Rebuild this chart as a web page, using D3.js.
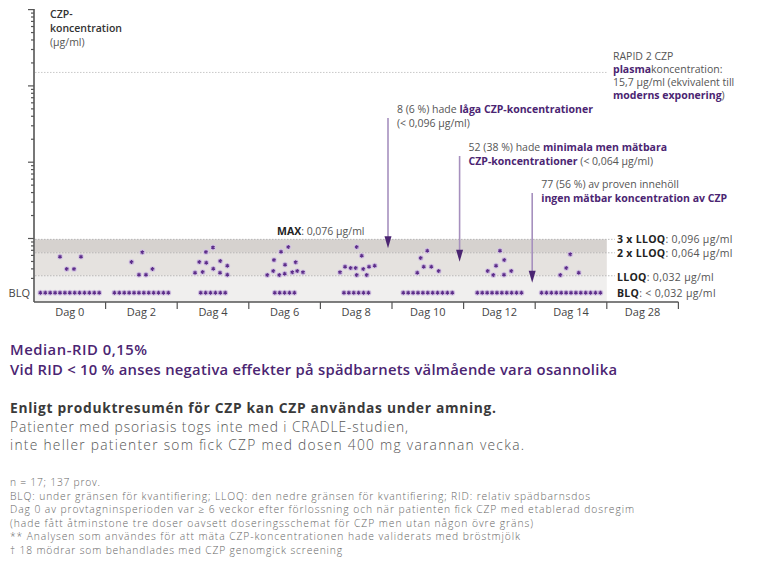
<!DOCTYPE html>
<html>
<head>
<meta charset="utf-8">
<script src="https://cdn.jsdelivr.net/npm/d3@7"></script>
<style>
  body { margin: 0; background: #fff; }
  svg { font-family: "Open Sans", Lato, sans-serif; }
  .ax path, .ax line { stroke: #555; }
</style>
</head>
<body>
<svg id="chart" width="774" height="576"></svg>
<script>
// categories
const days = ["Dag 0", "Dag 2", "Dag 4", "Dag 6", "Dag 8", "Dag 10", "Dag 12", "Dag 14", "Dag 28"];
// number of samples below the limit of quantification, per day
const blqCounts = [13, 12, 6, 5, 6, 11, 10, 13, 0];

// measured samples (µg/ml), with the day and spread within the day column
const pointDay = [
  "Dag 0","Dag 0","Dag 0","Dag 0",
  "Dag 2","Dag 2","Dag 2","Dag 2","Dag 2",
  "Dag 4","Dag 4","Dag 4","Dag 4","Dag 4","Dag 4","Dag 4","Dag 4","Dag 4","Dag 4","Dag 4",
  "Dag 6","Dag 6","Dag 6","Dag 6","Dag 6","Dag 6","Dag 6","Dag 6","Dag 6","Dag 6","Dag 6","Dag 6",
  "Dag 8","Dag 8","Dag 8","Dag 8","Dag 8","Dag 8","Dag 8","Dag 8","Dag 8","Dag 8","Dag 8",
  "Dag 10","Dag 10","Dag 10","Dag 10","Dag 10","Dag 10",
  "Dag 12","Dag 12","Dag 12","Dag 12","Dag 12","Dag 12","Dag 12",
  "Dag 14","Dag 14","Dag 14","Dag 14"
];
const pointValue = [
  0.0569, 0.0392, 0.0392, 0.0569,
  0.0485, 0.0330, 0.0330, 0.0652, 0.0392,
  0.0351, 0.0485, 0.0358, 0.0655, 0.0474, 0.0751, 0.0395, 0.0499, 0.0351, 0.0432, 0.0330,
  0.0327, 0.0369, 0.0515, 0.0327, 0.0661, 0.0340, 0.0447, 0.0760, 0.0355, 0.0480, 0.0369, 0.0355,
  0.0355, 0.0421, 0.0404, 0.0404, 0.0327, 0.0760, 0.0586, 0.0392, 0.0327, 0.0421, 0.0434,
  0.0351, 0.0547, 0.0421, 0.0682, 0.0421, 0.0369,
  0.0369, 0.0327, 0.0434, 0.0682, 0.0330, 0.0515, 0.0369,
  0.0327, 0.0404, 0.0612, 0.0351
];
const pointJitter = [
  0.363, 0.457, 0.559, 0.656,
  0.362, 0.466, 0.564, 0.513, 0.655,
  0.249, 0.309, 0.356, 0.402, 0.406, 0.500, 0.504, 0.602, 0.598, 0.700, 0.700,
  0.258, 0.342, 0.352, 0.426, 0.450, 0.501, 0.506, 0.552, 0.608, 0.655, 0.677, 0.757,
  0.274, 0.344, 0.423, 0.493, 0.507, 0.507, 0.577, 0.599, 0.647, 0.679, 0.758,
  0.353, 0.401, 0.443, 0.493, 0.549, 0.652,
  0.337, 0.415, 0.453, 0.508, 0.564, 0.568, 0.666,
  0.351, 0.434, 0.490, 0.608
];

// limits
const limitValues = [0.096, 0.064, 0.032];
const limitBold = ["3 x LLOQ", "2 x LLOQ", "LLOQ", "BLQ"];
const limitText = [": 0,096 µg/ml", ": 0,064 µg/ml", ": 0,032 µg/ml", ": < 0,032 µg/ml"];
const rapidLevel = 15.7;
const yTicks = [0.03,0.04,0.05,0.06,0.07,0.08,0.09,0.1,0.2,0.3,0.4,0.5,0.6,0.7,0.8,0.9,1,2,3,4,5,6,7,8,9,10,20,30,40,50,60,70,80,90,100];

const purple = "#4b2572", grey = "#555";

const svg = d3.select("#chart");
const x = d3.scaleBand().domain(days).range([34, 678.4]);
const y = d3.scaleLog().domain([0.1, 100]).range([238, 9.1]);
const bottom = 302;
const bandEnd = x("Dag 28");

// background bands
const bandFill = ["#d6d2cf", "#e5e2df", "#f0efee"];
const bandLow = [0.064, 0.032, null];
svg.selectAll("rect.band").data(limitValues).enter().append("rect")
  .attr("x", 35).attr("width", bandEnd - 35)
  .attr("y", d => y(d))
  .attr("height", (d, i) => (bandLow[i] ? y(bandLow[i]) : bottom) - y(d))
  .attr("fill", (d, i) => bandFill[i]);

svg.selectAll("line.lim").data(limitValues).enter().append("line")
  .attr("x1", 35).attr("x2", bandEnd + 8)
  .attr("y1", d => y(d)).attr("y2", d => y(d))
  .attr("stroke", "#aaa").attr("stroke-dasharray", "1.5,1.5").attr("stroke-width", 0.8);

// rapid 2 reference line
svg.append("line").attr("x1", 35).attr("x2", bandEnd + 1)
  .attr("y1", y(rapidLevel) + 2).attr("y2", y(rapidLevel) + 2)
  .attr("stroke", "#bbb").attr("stroke-dasharray", "1.5,1.5").attr("stroke-width", 0.8);

// y axis
const yAxis = svg.append("g").attr("class", "ax").attr("transform", "translate(34,0)")
  .call(d3.axisLeft(y).tickValues(yTicks).tickFormat("").tickSizeOuter(0));
yAxis.select(".domain").remove();
yAxis.selectAll(".tick line")
  .attr("x2", d => Math.abs(Math.log10(d) - Math.round(Math.log10(d))) < 1e-6 ? -6 : -3)
  .attr("stroke-width", 1.2);
svg.append("line").attr("x1", 34).attr("x2", 34).attr("y1", y(100)).attr("y2", bottom)
  .attr("stroke", "#555").attr("stroke-width", 1.6);

// x axis
const xAxis = svg.append("g").attr("class", "ax").attr("transform", `translate(0,${bottom})`);
xAxis.append("line").attr("x1", 34).attr("x2", x.range()[1]).attr("stroke-width", 1.6);
xAxis.selectAll("line.tk").data(days).enter().append("line")
  .attr("x1", d => x(d) + x.bandwidth()).attr("x2", d => x(d) + x.bandwidth())
  .attr("y1", 0).attr("y2", 7).attr("stroke-width", 1.2);
xAxis.selectAll("text").data(days).enter().append("text")
  .attr("x", d => x(d) + x.bandwidth() / 2).attr("y", 14)
  .attr("text-anchor", "middle").attr("font-size", 11).attr("fill", "#444").text(d => d);

// star marker
const star = d3.symbol(d3.symbolAsterisk, 11);
function drawStar(g, cx, cy) {
  g.append("circle").attr("cx", cx).attr("cy", cy).attr("r", 2.9).attr("fill", "#d5c7e3");
  g.append("path").attr("d", star()).attr("transform", `translate(${cx},${cy})`)
    .attr("stroke", "#5d2d8a").attr("stroke-width", 1.1).attr("fill", "none");
}
const marks = svg.append("g");
const blqY = y(0.032) + 17;
blqCounts.forEach((n, i) => {
  const cx = x(days[i]) + x.bandwidth() / 2;
  for (let k = 0; k < n; k++) drawStar(marks, cx + (k - (n - 1) / 2) * 4.9, blqY);
});
pointValue.forEach((v, i) => {
  drawStar(marks, x(pointDay[i]) + pointJitter[i] * x.bandwidth(), y(v));
});

// labels right of plot
const rl = svg.append("g").attr("font-size", 10.5).attr("letter-spacing", 0.3);
const rlY = [y(0.096) + 4, y(0.064) + 4, y(0.032) + 5, blqY + 4];
limitBold.forEach((b, i) => {
  const t = rl.append("text").attr("x", 617).attr("y", rlY[i]);
  t.append("tspan").attr("font-weight", 700).attr("fill", "#222").text(b);
  t.append("tspan").attr("fill", grey).text(limitText[i]);
});
svg.append("text").attr("x", 30).attr("y", blqY + 4).attr("text-anchor", "end")
  .attr("font-size", 11).attr("fill", "#444").text("BLQ");

// y axis title
const yt = svg.append("text").attr("x", 50).attr("y", 18).attr("font-size", 10.5);
yt.append("tspan").attr("x", 50).attr("fill", "#333").attr("font-weight", 600).text("CZP-");
yt.append("tspan").attr("x", 50).attr("dy", 14).attr("fill", "#333").attr("font-weight", 600)
  .attr("textLength", 72).attr("lengthAdjust", "spacing").text("koncentration");
yt.append("tspan").attr("x", 50).attr("dy", 14).attr("fill", grey).text("(µg/ml)");

// multi-part text helper: parts = [[text, bold], ...]
function rich(g, xx, yy, parts, size) {
  const t = g.append("text").attr("x", xx).attr("y", yy).attr("font-size", size);
  parts.forEach(p => t.append("tspan").attr("fill", p[1] ? purple : grey)
    .attr("font-weight", p[1] ? 700 : 400).text(p[0]));
  return t;
}
const ann = svg.append("g");
rich(ann, 613, 60, [["RAPID 2 CZP", 0]], 10.5);
rich(ann, 613, 73, [["plasma", 1], ["koncentration:", 0]], 10.5);
rich(ann, 613, 86, [["15,7 µg/ml (ekvivalent till", 0]], 10.5);
rich(ann, 613, 99, [["moderns exponering", 1], [")", 0]], 10.5);

// MAX label
const mx = svg.append("text").attr("x", 277).attr("y", 235).attr("font-size", 10.5);
mx.append("tspan").attr("font-weight", 700).attr("fill", "#222").text("MAX");
mx.append("tspan").attr("fill", grey).text(": 0,076 µg/ml");

// arrows
const arrowX = [x("Dag 8") + x.bandwidth() - 4, x("Dag 10") + x.bandwidth() - 4, x("Dag 12") + x.bandwidth() - 3];
const arrowTop = [118, 156, 193];
const arrowTip = [y(0.096) + 9, y(0.064) + 9, y(0.032) + 7];
const arrowText = [
  [[["8 (6 %) hade ", 0], ["låga CZP-koncentrationer", 1]], [["(< 0,096 µg/ml)", 0]]],
  [[["52 (38 %) hade ", 0], ["minimala men mätbara", 1]], [["CZP-koncentrationer", 1], [" (< 0,064 µg/ml)", 0]]],
  [[["77 (56 %) av proven innehöll", 0]], [["ingen mätbar koncentration av CZP", 1]]]
];
arrowX.forEach((ax, i) => {
  svg.append("line").attr("x1", ax).attr("x2", ax).attr("y1", arrowTop[i]).attr("y2", arrowTip[i] - 8)
    .attr("stroke", "#a690be").attr("stroke-width", 1.6);
  svg.append("path").attr("d", `M${ax - 3.5},${arrowTip[i] - 12}L${ax + 3.5},${arrowTip[i] - 12}L${ax},${arrowTip[i]}Z`)
    .attr("fill", purple);
  rich(ann, ax + 9, arrowTop[i] - 5, arrowText[i][0], 10.5);
  rich(ann, ax + 9, arrowTop[i] + 9, arrowText[i][1], 10.5);
});

// text block below; line widths fitted to the reference layout
const tb = svg.append("g");
const head = tb.append("text").attr("x", 10).attr("y", 355).attr("font-size", 14.8)
  .attr("font-weight", 600).attr("fill", purple);
head.append("tspan").attr("x", 10).attr("textLength", 137).attr("lengthAdjust", "spacing").text("Median-RID 0,15%");
head.append("tspan").attr("x", 10).attr("dy", 20).attr("textLength", 607).attr("lengthAdjust", "spacing")
  .text("Vid RID < 10 % anses negativa effekter på spädbarnets välmående vara osannolika");

const body = tb.append("text").attr("x", 10).attr("y", 413).attr("font-size", 13.8);
body.append("tspan").attr("x", 10).attr("font-weight", 700).attr("fill", "#3a3a3a")
  .attr("textLength", 486).attr("lengthAdjust", "spacing")
  .text("Enligt produktresumén för CZP kan CZP användas under amning.");
body.append("tspan").attr("x", 10).attr("dy", 18.5).attr("font-weight", 300).attr("fill", grey)
  .attr("textLength", 398).attr("lengthAdjust", "spacing")
  .text("Patienter med psoriasis togs inte med i CRADLE-studien,");
body.append("tspan").attr("x", 10).attr("dy", 18.5).attr("font-weight", 300).attr("fill", grey)
  .attr("textLength", 514).attr("lengthAdjust", "spacing")
  .text("inte heller patienter som fick CZP med dosen 400 mg varannan vecka.");

const notes = [
  "n = 17; 137 prov.",
  "BLQ: under gränsen för kvantifiering; LLOQ: den nedre gränsen för kvantifiering; RID: relativ spädbarnsdos",
  "Dag 0 av provtagninsperioden var ≥ 6 veckor efter förlossning och när patienten fick CZP med etablerad dosregim",
  "(hade fått åtminstone tre doser oavsett doseringsschemat för CZP men utan någon övre gräns)",
  "** Analysen som användes för att mäta CZP-koncentrationen hade validerats med bröstmjölk",
  "† 18 mödrar som behandlades med CZP genomgick screening"
];
const noteWidths = [90, 580, 624, 523, 510, 332];
const nt = tb.append("text").attr("x", 10).attr("y", 486).attr("font-size", 10.3)
  .attr("font-weight", 300).attr("fill", "#666");
notes.forEach((d, i) => nt.append("tspan").attr("x", 10).attr("dy", i ? 13.6 : 0)
  .attr("textLength", noteWidths[i]).attr("lengthAdjust", "spacing").text(d));
</script>
</body>
</html>
